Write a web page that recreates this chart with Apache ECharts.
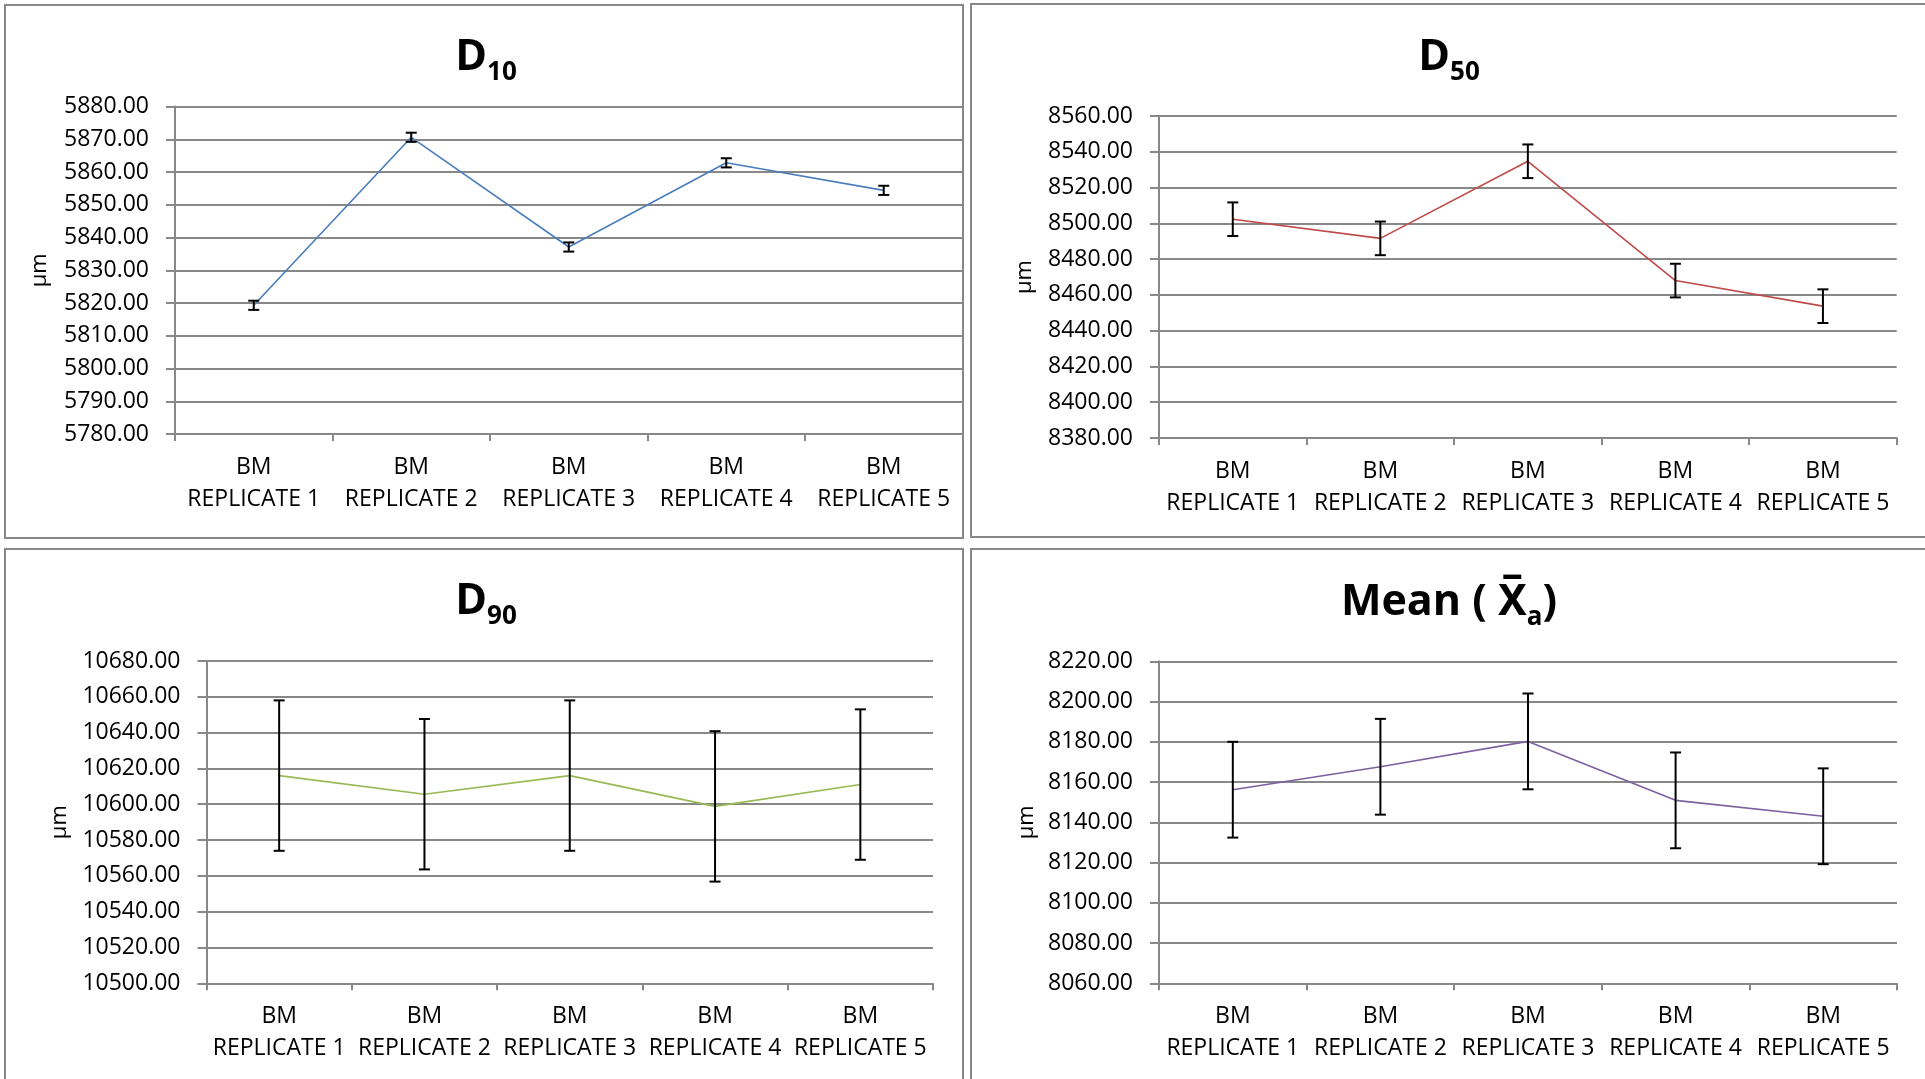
<!DOCTYPE html>
<html>
<head>
<meta charset="utf-8">
<script src="https://cdn.jsdelivr.net/npm/echarts@6/dist/echarts.min.js"></script>
<style>
html,body{margin:0;padding:0;background:#fff;overflow:hidden;}
#c{width:1925px;height:1079px;}
</style>
</head>
<body>
<div id="c"></div>
<script>
// ---- data ----
const categories = ['BM\nREPLICATE 1','BM\nREPLICATE 2','BM\nREPLICATE 3','BM\nREPLICATE 4','BM\nREPLICATE 5'];
const d10 = [5819.3, 5870.6, 5837.1, 5862.8, 5854.4];
const d10Err = [1.4, 1.4, 1.4, 1.4, 1.4];
const d50 = [8502.3, 8491.6, 8534.7, 8468.0, 8453.7];
const d50Err = [9.4, 9.4, 9.4, 9.4, 9.4];
const d90 = [10616.0, 10605.6, 10616.0, 10598.8, 10611.0];
const d90Err = [42.0, 42.0, 42.0, 42.0, 42.0];
const meanVals = [8156.2, 8167.6, 8180.2, 8150.9, 8143.0];
const meanErr = [23.8, 23.8, 23.8, 23.8, 23.8];
const yRanges = [[5780, 5880, 10], [8380, 8560, 20], [10500, 10680, 20], [8060, 8220, 20]];
const unitLabel = 'µm';

// ---- styles ----
const FONT = '"Open Sans", "Noto Sans", sans-serif';
const GRAY = '#888888';
const lineColors = ['#4A7EBB', '#BE4B48', '#98B954', '#7D60A0'];

const grids = [
  {left: 175, top: 106.5, width: 787.5, height: 327.5},
  {left: 1159, top: 116, width: 737.7, height: 322},
  {left: 206.5, top: 661, width: 726.5, height: 322.3},
  {left: 1159, top: 661.3, width: 738, height: 322}
];
const nameGaps = [124, 123, 136, 121];

const titleRich = {
  m: {fontSize: 43, fontWeight: 'bold', fontFamily: FONT, color: '#000', lineHeight: 43, verticalAlign: 'top'},
  o: {fontSize: 43, fontWeight: 'bold', fontFamily: '"Noto Sans", "DejaVu Sans", sans-serif', color: '#000', lineHeight: 43, verticalAlign: 'top'},
  s: {fontSize: 26, fontWeight: 'bold', fontFamily: FONT, color: '#000', lineHeight: 50, verticalAlign: 'bottom'}
};
const titles = [
  {text: '{m|D}{s|10}', left: 481, top: 31},
  {text: '{m|D}{s|50}', left: 1444, top: 31},
  {text: '{m|D}{s|90}', left: 481, top: 575},
  {text: '{m|Mean ( }{o|X\u0305}{s|a}{m|)}', left: 1444, top: 576}
].map(t => Object.assign(t, {textAlign: 'center', textStyle: {rich: titleRich}}));

const seriesVals = [d10, d50, d90, meanVals];
const seriesErrs = [d10Err, d50Err, d90Err, meanErr];

function errRender(params, api) {
  const x = api.value(0), lo = api.value(1), hi = api.value(2);
  const pHi = api.coord([x, hi]);
  const pLo = api.coord([x, lo]);
  const cap = 5.5;
  const st = {stroke: '#000', lineWidth: 2};
  return {type: 'group', children: [
    {type: 'line', shape: {x1: pHi[0], y1: pHi[1], x2: pLo[0], y2: pLo[1]}, style: st},
    {type: 'line', shape: {x1: pHi[0] - cap, y1: pHi[1], x2: pHi[0] + cap, y2: pHi[1]}, style: st},
    {type: 'line', shape: {x1: pLo[0] - cap, y1: pLo[1], x2: pLo[0] + cap, y2: pLo[1]}, style: st}
  ]};
}

const xAxes = [], yAxes = [], series = [];
for (let i = 0; i < 4; i++) {
  xAxes.push({
    type: 'category', gridIndex: i, data: categories, boundaryGap: true,
    axisLine: {show: true, lineStyle: {color: GRAY, width: 2}},
    axisTick: {show: true, length: 7, lineStyle: {color: GRAY, width: 2}},
    axisLabel: {margin: 17, fontSize: 23, lineHeight: 32, color: '#000', fontFamily: FONT, interval: 0},
    splitLine: {show: false}
  });
  yAxes.push({
    type: 'value', gridIndex: i, min: yRanges[i][0], max: yRanges[i][1], interval: yRanges[i][2],
    name: unitLabel, nameLocation: 'middle', nameGap: nameGaps[i],
    nameTextStyle: {fontSize: 22, color: '#000', fontFamily: FONT},
    axisLine: {show: true, lineStyle: {color: GRAY, width: 2}},
    axisTick: {show: true, length: 9, lineStyle: {color: GRAY, width: 2}},
    axisLabel: {margin: 26, fontSize: 23, color: '#000', fontFamily: FONT, formatter: v => v.toFixed(2)},
    splitLine: {show: true, lineStyle: {color: GRAY, width: 2}}
  });
  series.push({
    type: 'line', xAxisIndex: i, yAxisIndex: i, data: seriesVals[i],
    symbol: 'none', lineStyle: {color: lineColors[i], width: 1.6}, z: 3, animation: false
  });
  series.push({
    type: 'custom', xAxisIndex: i, yAxisIndex: i, renderItem: errRender,
    encode: {x: 0, y: [1, 2]}, z: 4, animation: false,
    data: seriesVals[i].map((v, k) => [k, v - seriesErrs[i][k], v + seriesErrs[i][k]])
  });
}

const panelStyle = {fill: 'none', stroke: GRAY, lineWidth: 2};
const chart = echarts.init(document.getElementById('c'), null, {renderer: 'canvas'});
chart.setOption({
  animation: false,
  backgroundColor: '#fff',
  title: titles,
  grid: grids,
  xAxis: xAxes,
  yAxis: yAxes,
  series: series,
  graphic: [
    {type: 'rect', shape: {x: 5, y: 5, width: 958, height: 533}, style: panelStyle, silent: true},
    {type: 'rect', shape: {x: 971, y: 4, width: 962, height: 533}, style: panelStyle, silent: true},
    {type: 'rect', shape: {x: 5, y: 549, width: 958, height: 600}, style: panelStyle, silent: true},
    {type: 'rect', shape: {x: 971, y: 549, width: 962, height: 600}, style: panelStyle, silent: true}
  ]
});
</script>
</body>
</html>
